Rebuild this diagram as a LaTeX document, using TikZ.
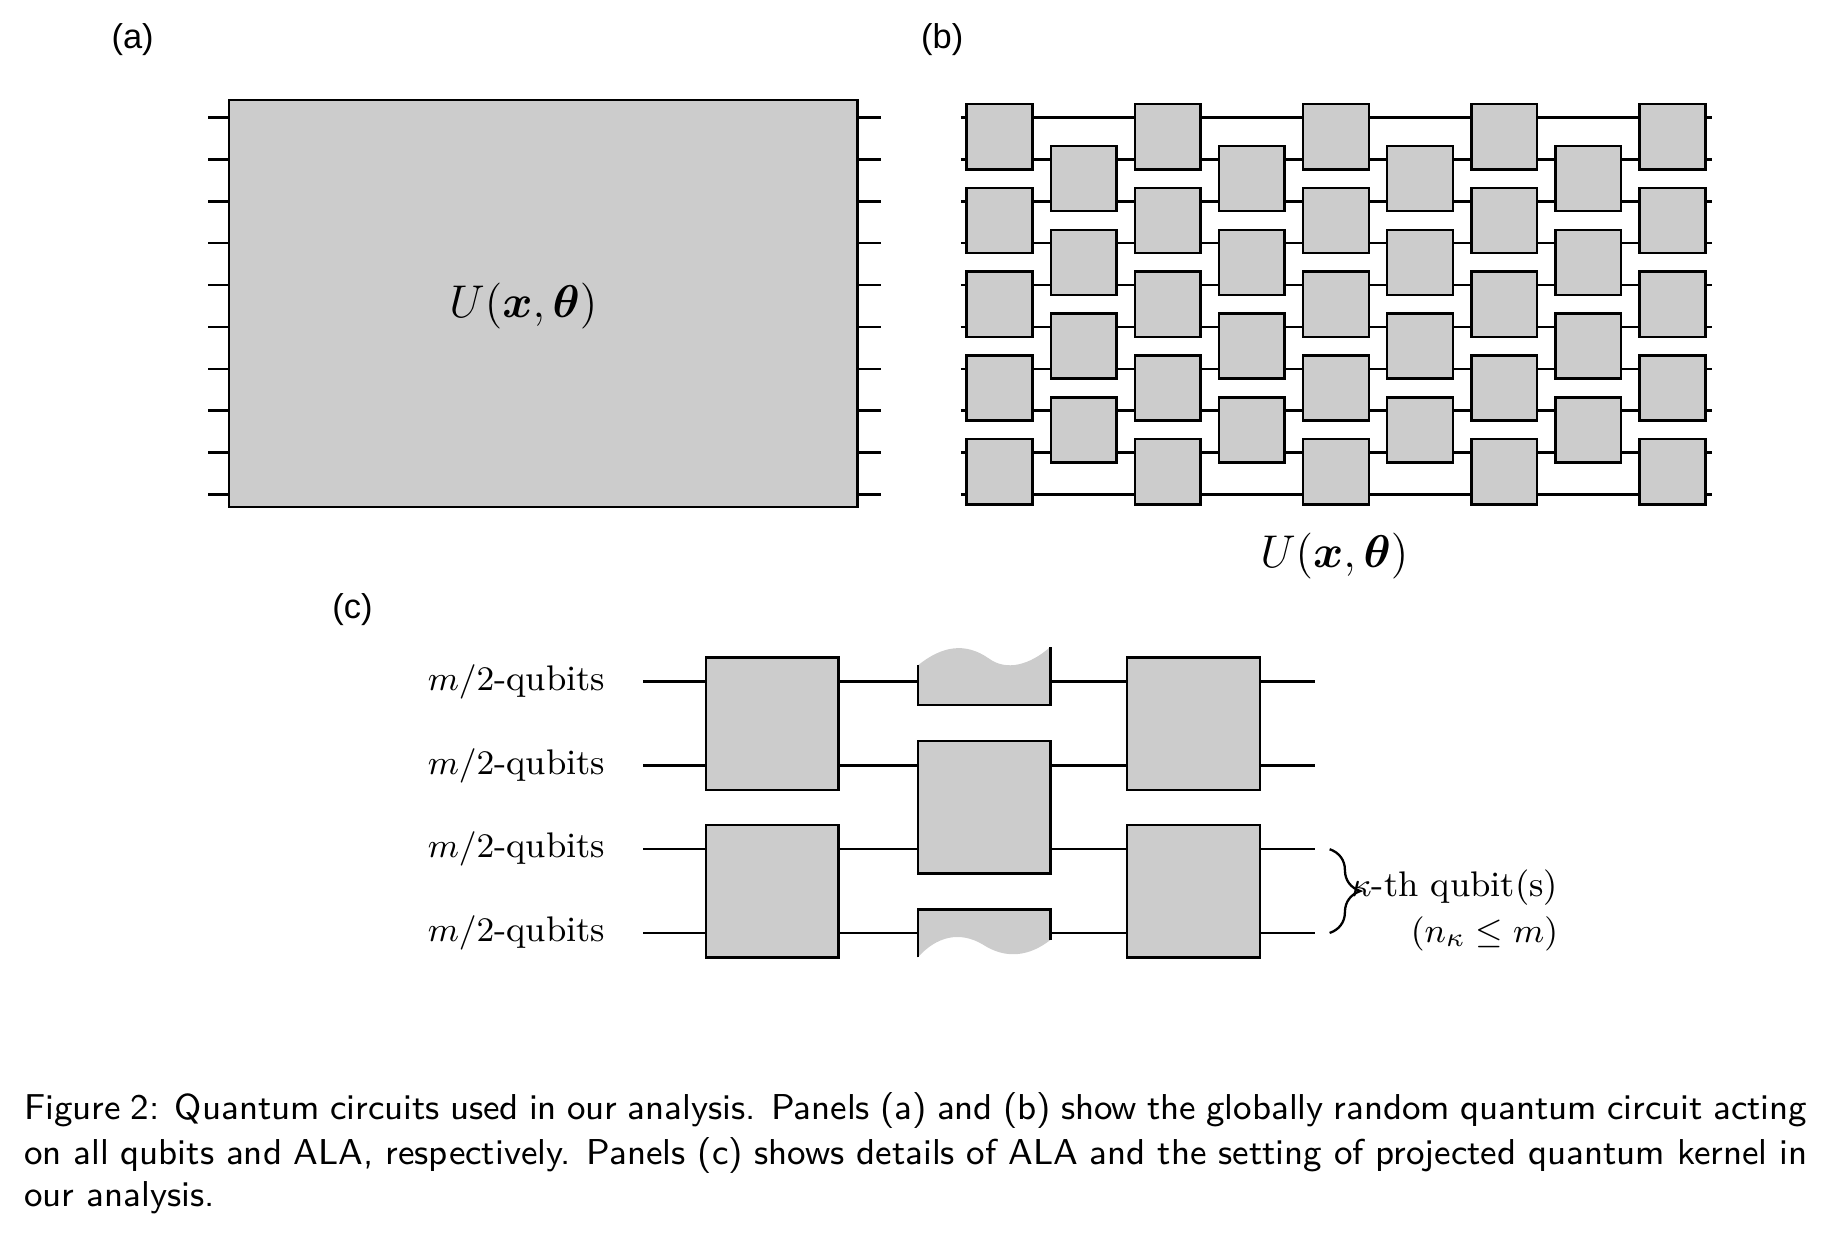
\documentclass[tikz,border=0pt]{standalone}
\usepackage{amsmath,amssymb}
\usepackage{fontspec}
\newfontfamily\arialf{Liberation Sans}
\usetikzlibrary{decorations.pathreplacing}
\begin{document}
\begin{tikzpicture}[x=0.304pt,y=-0.304pt,
  wire/.style={line width=0.65pt},
  gate/.style={draw,line width=0.65pt,fill=black!20},
  plab/.style={font=\arialf\fontsize{9}{10}\selectfont},
  qlab/.style={font=\fontsize{9.3}{11}\selectfont},
  captxt/.style={anchor=west,inner sep=0pt,font=\sffamily\fontsize{9.4}{11.6}\selectfont}]
\useasboundingbox (0,0) rectangle (1568,1060);
% labels
\node[plab] (la) at (114,34) {(a)};
\node[plab] (lb) at (810,34) {(b)};
\node[plab] (lc) at (303,524) {(c)};
% panel (a)
\foreach \i in {0,...,9}{
  \draw[wire] (179,101+36*\i) -- (757,101+36*\i);
}
\draw[gate] (197,86) rectangle (737,436);
\node[font=\fontsize{12}{14}\selectfont] (ua) at (450,263) {$U(\boldsymbol{x},\boldsymbol{\theta})$};
% panel (b)
\foreach \i in {0,...,9}{
  \draw[wire] (826,101+36*\i) -- (1472,101+36*\i);
}
\foreach \c in {0,2,4,6,8}{
  \foreach \r in {0,2,4,6,8}{
    \draw[gate] (831+72.3*\c,89.5+36*\r) rectangle ++(56.5,56);
  }
}
\foreach \c in {1,3,5,7}{
  \foreach \r in {1,3,5,7}{
    \draw[gate] (831+72.3*\c,89.5+36*\r) rectangle ++(56.5,56);
  }
}
\node[font=\fontsize{12}{14}\selectfont] (ub) at (1147,478) {$U(\boldsymbol{x},\boldsymbol{\theta})$};
% panel (c)
\foreach \y/\n in {586/q1,658/q2,730/q3,802/q4}{
  \node[qlab,anchor=east] (\n) at (532,\y) {$m/2$-qubits};
  \draw[wire] (553,\y) -- (1130,\y);
}
\draw[gate] (607,565) rectangle (721,679);
\draw[gate] (607,709) rectangle (721,823);
\draw[gate] (789,637) rectangle (903,751);
\draw[gate] (969,565) rectangle (1083,679);
\draw[gate] (969,709) rectangle (1083,823);
% wavy partial gates
\fill[black!20] (789,606) -- (789,572) .. controls (810,555) and (830,552) .. (850,566) .. controls (865,577) and (885,572) .. (903,556) -- (903,606) -- cycle;
\draw[wire] (789,572) -- (789,606) -- (903,606) -- (903,556);
\fill[black!20] (789,782) -- (789,823) .. controls (805,805) and (825,800) .. (845,812) .. controls (865,825) and (885,822) .. (903,808) -- (903,782) -- cycle;
\draw[wire] (789,823) -- (789,782) -- (903,782) -- (903,808);
% brace
\coordinate (bt) at (1143,730);
\coordinate (bb) at (1143,802);
\draw[line width=0.6pt,decorate,decoration={brace,amplitude=8pt}] (bt) -- (bb);
\node[qlab,anchor=east,align=right,inner sep=0pt] (kap) at (1340,783) {$\kappa$-th qubit(s)\\[1pt] $(n_\kappa\le m)$};
% caption
\node[captxt] (c1) at (20,955) {\makebox[466pt][s]{Figure 2: Quantum circuits used in our analysis. Panels (a) and (b) show the globally random quantum circuit acting}};
\node[captxt] (c2) at (20,993) {\makebox[466pt][s]{on all qubits and ALA, respectively. Panels (c) shows details of ALA and the setting of projected quantum kernel in}};
\node[captxt] (c3) at (20,1030) {our analysis.};
\end{tikzpicture}
\end{document}
